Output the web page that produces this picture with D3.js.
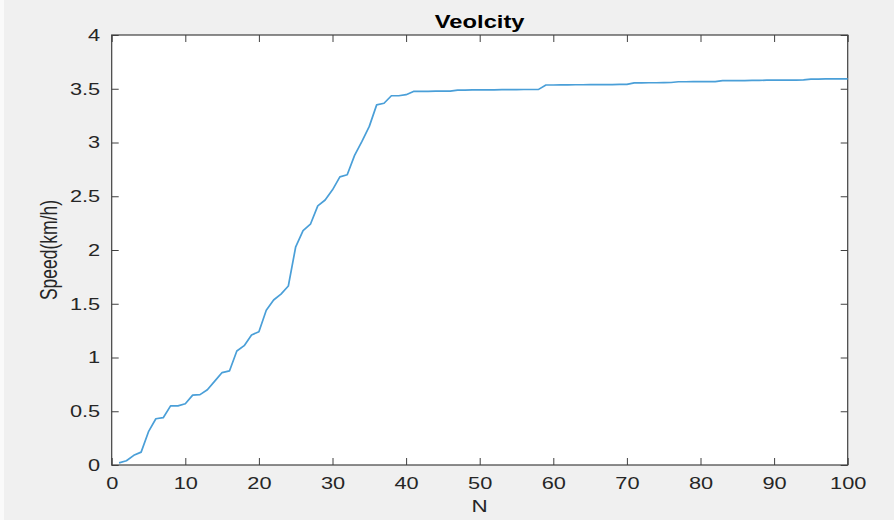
<!DOCTYPE html>
<html><head><meta charset="utf-8">
<script src="https://cdn.jsdelivr.net/npm/d3@7"></script>
<style>
html,body{margin:0;padding:0;background:#f0f0f0;}
svg{display:block;font-family:"Liberation Sans",Arial,Helvetica,sans-serif;}
</style></head>
<body>
<svg id="chart" width="894" height="520"></svg>
<script>
const titleText = "Veolcity";
const xLabel = "N";
const yLabel = "Speed(km/h)";
const xTicks = [0,10,20,30,40,50,60,70,80,90,100];
const yTicks = [0,0.5,1,1.5,2,2.5,3,3.5,4];
const nValues = d3.range(1, 101);
const speed = [
 0.02,0.04,0.09,0.12,0.31,0.43,0.44,0.55,0.55,0.57,
 0.65,0.655,0.70,0.78,0.86,0.875,1.06,1.11,1.21,1.24,
 1.44,1.535,1.59,1.665,2.03,2.18,2.24,2.41,2.465,2.56,
 2.68,2.70,2.88,3.01,3.15,3.35,3.365,3.435,3.435,3.445,
 3.475,3.475,3.476,3.477,3.477,3.478,3.488,3.488,3.489,3.489,
 3.490,3.490,3.491,3.492,3.492,3.493,3.493,3.494,3.535,3.535,
 3.536,3.536,3.537,3.537,3.538,3.538,3.539,3.539,3.540,3.540,
 3.555,3.555,3.556,3.556,3.557,3.558,3.565,3.565,3.566,3.566,
 3.567,3.567,3.575,3.575,3.576,3.576,3.577,3.577,3.580,3.580,
 3.580,3.581,3.581,3.582,3.590,3.590,3.591,3.591,3.592,3.592
];

const svg = d3.select("#chart");
const SX = 1.32;
const L = 111.7, R = 847.7, T = 35, B = 465;
const x = d3.scaleLinear().domain([0,100]).range([L,R]);
const y = d3.scaleLinear().domain([0,4]).range([B,T]);

svg.append("rect").attr("x",0).attr("y",0).attr("width",894).attr("height",520).attr("fill","#f0f0f0");
svg.append("rect").attr("x",0).attr("y",0).attr("width",4).attr("height",520).attr("fill","#fafafa");
svg.append("rect").attr("x",L).attr("y",T).attr("width",R-L).attr("height",B-T).attr("fill","#ffffff");

const axisColor = "#404040";
function styleAxis(g, showLabels){
  g.select(".domain").remove();
  g.selectAll(".tick line").attr("stroke",axisColor).attr("stroke-width",1);
  if(!showLabels) g.selectAll(".tick text").remove();
  g.selectAll(".tick text").attr("fill","#262626").attr("font-size",16.5);
}

const gB = svg.append("g").attr("transform",`translate(0,${B})`)
  .call(d3.axisBottom(x).tickValues(xTicks).tickFormat(d3.format("d")).tickSizeInner(-7).tickSizeOuter(0).tickPadding(12));
styleAxis(gB,true);
gB.selectAll(".tick text").attr("transform",`scale(${SX},1)`);
const gT = svg.append("g").attr("transform",`translate(0,${T})`)
  .call(d3.axisTop(x).tickValues(xTicks).tickSizeInner(-7).tickSizeOuter(0));
styleAxis(gT,false);
const gL = svg.append("g").attr("transform",`translate(${L},0)`)
  .call(d3.axisLeft(y).tickValues(yTicks).tickFormat(d3.format("")).tickSizeInner(-7).tickSizeOuter(0).tickPadding(0));
styleAxis(gL,true);
gL.selectAll(".tick text").attr("x", -11.5/SX).attr("transform",`scale(${SX},1)`);
const gR = svg.append("g").attr("transform",`translate(${R},0)`)
  .call(d3.axisRight(y).tickValues(yTicks).tickSizeInner(-7).tickSizeOuter(0));
styleAxis(gR,false);

svg.append("rect").attr("x",L).attr("y",T).attr("width",R-L).attr("height",B-T)
  .attr("fill","none").attr("stroke",axisColor).attr("stroke-width",1.2);

const line = d3.line().x((d,i)=>x(nValues[i])).y(d=>y(d));
svg.append("path").datum(speed).attr("d",line)
  .attr("fill","none").attr("stroke","#4a9fd8").attr("stroke-width",1.7).attr("stroke-linejoin","round");

svg.append("text").attr("transform",`translate(${(L+R)/2},28) scale(${SX},1)`)
  .attr("text-anchor","middle").attr("font-weight","bold").attr("font-size",18).attr("fill","#000").text(titleText);
svg.append("text").attr("transform",`translate(${(L+R)/2},512) scale(${SX},1)`)
  .attr("text-anchor","middle").attr("font-size",17).attr("fill","#262626").text(xLabel);
svg.append("text").attr("transform",`translate(57,250) scale(${SX},1) rotate(-90)`)
  .attr("text-anchor","middle").attr("font-size",17.5).attr("fill","#262626").text(yLabel);
</script>
</body></html>
